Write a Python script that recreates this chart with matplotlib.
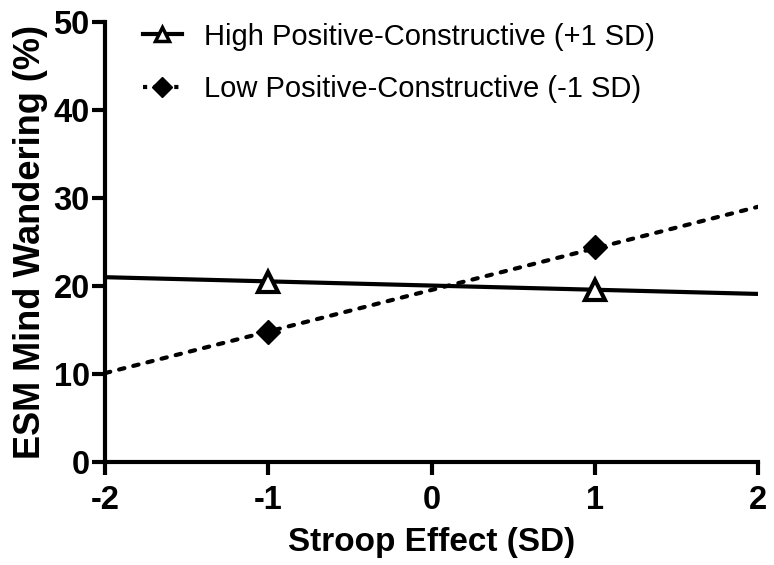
import matplotlib
matplotlib.use("Agg")
import matplotlib.pyplot as plt

# ---- data ----
line_x = [-2, 2]
high_line = [21.0, 19.1]
low_line = [10.1, 29.0]
marker_x = [-1, 1]
high_pts = [20.5, 19.6]
low_pts = [14.8, 24.4]
labels = ["High Positive-Constructive (+1 SD)", "Low Positive-Constructive (-1 SD)"]
xticks = [-2, -1, 0, 1, 2]
yticks = [0, 10, 20, 30, 40, 50]

plt.rcParams['font.family'] = ['Liberation Sans', 'DejaVu Sans']

fig = plt.figure(figsize=(7.74, 5.65), dpi=100)
ax = fig.add_axes([105/774, 1-462/565, (758-105)/774, (462-22)/565])

lw = 3.0
ax.plot(line_x, high_line, color='black', lw=lw, solid_capstyle='butt', zorder=2)
ax.plot(line_x, low_line, color='black', lw=lw, linestyle=(0, (1.3, 2.2)),
        dash_capstyle='round', zorder=2)
ax.plot(marker_x, high_pts, linestyle='none', marker='^', ms=14, mew=3,
        mfc='white', mec='black', zorder=3)
ax.plot(marker_x, low_pts, linestyle='none', marker='D', ms=12, mew=1,
        mfc='black', mec='black', zorder=3)

# legend handles
h1, = ax.plot([], [], color='black', lw=lw, marker='^', ms=10, mew=2.5,
              mfc='white', mec='black')
h2, = ax.plot([], [], color='black', lw=lw, linestyle=(0, (1.0, 1.5)),
              marker='D', ms=10, mfc='black', mec='black')
leg = ax.legend([h1, h2], labels, loc='upper left', bbox_to_anchor=(0.04, 1.025),
                frameon=False, handlelength=1.35, handletextpad=0.75,
                labelspacing=0.85, borderaxespad=0,
                prop={'family': 'Liberation Sans', 'size': 21})

ax.set_xlim(-2, 2)
ax.set_ylim(0, 50)
ax.set_xticks(xticks)
ax.set_yticks(yticks)
ax.set_xticklabels([str(v) for v in xticks], fontsize=23.5, fontweight='bold')
ax.set_yticklabels([str(v) for v in yticks], fontsize=23.5, fontweight='bold')
for s in ['top', 'right']:
    ax.spines[s].set_visible(False)
for s in ['left', 'bottom']:
    ax.spines[s].set_linewidth(3)
ax.tick_params(axis='both', direction='out', length=9.5, width=3)
ax.tick_params(axis='x', pad=7)
ax.tick_params(axis='y', pad=1.5)
ax.set_xlabel('Stroop Effect (SD)', fontsize=24, fontweight='bold', labelpad=8)
ax.set_ylabel('ESM Mind Wandering (%)', fontsize=26, fontweight='bold', labelpad=4)

fig.savefig('out.png', dpi=100)
